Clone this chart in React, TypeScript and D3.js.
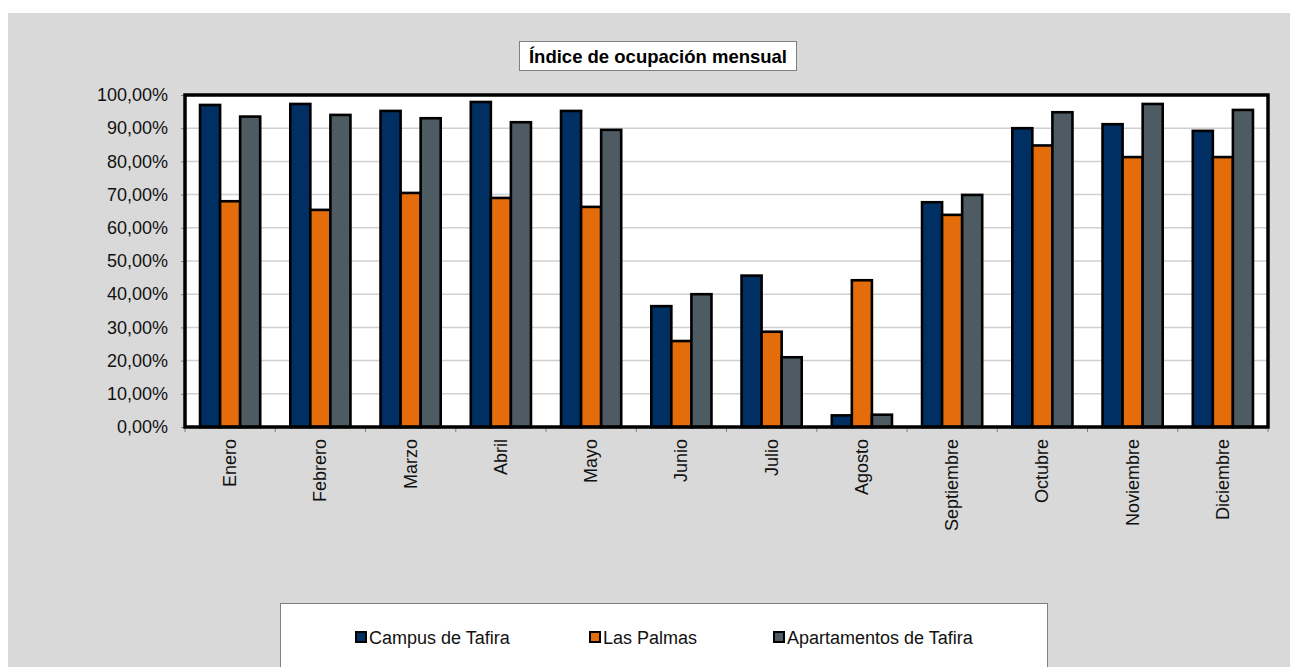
import React, { useRef, useEffect } from 'react';
import * as d3 from 'd3';

const months = ['Enero', 'Febrero', 'Marzo', 'Abril', 'Mayo', 'Junio', 'Julio', 'Agosto', 'Septiembre', 'Octubre', 'Noviembre', 'Diciembre'];
const seriesNames = ['Campus de Tafira', 'Las Palmas', 'Apartamentos de Tafira'];
const campusTafira = [0.970, 0.973, 0.952, 0.979, 0.952, 0.364, 0.456, 0.035, 0.677, 0.900, 0.912, 0.892];
const lasPalmas = [0.680, 0.654, 0.705, 0.690, 0.663, 0.259, 0.287, 0.442, 0.639, 0.848, 0.813, 0.813];
const apartamentosTafira = [0.935, 0.940, 0.930, 0.918, 0.895, 0.400, 0.210, 0.037, 0.699, 0.948, 0.973, 0.955];
const yTicks = [0, 0.1, 0.2, 0.3, 0.4, 0.5, 0.6, 0.7, 0.8, 0.9, 1];
const titleText = 'Índice de ocupación mensual';

const colors = ['#002F63', '#E46C0A', '#4F5B63'];
const FONT = 'Arial, "Liberation Sans", sans-serif';

const App = () => {
  const svgRef = useRef(null);
  const width = 1290;
  const height = 667;
  const plot = { left: 185, top: 95, right: 1268, bottom: 427 };

  useEffect(() => {
    const svg = d3.select(svgRef.current);
    svg.selectAll('*').remove();

    const values = [campusTafira, lasPalmas, apartamentosTafira];

    // background
    svg.append('rect')
      .attr('x', 8).attr('y', 13)
      .attr('width', width - 8).attr('height', height - 13)
      .attr('fill', '#D9D9D9');

    // scales
    const x0 = d3.scaleBand()
      .domain(months)
      .range([plot.left, plot.right])
      .paddingInner(0).paddingOuter(0);

    // gap width 150% -> 0.75 bar on each side of the group
    const x1 = d3.scaleBand()
      .domain(seriesNames)
      .range([0, x0.bandwidth()])
      .paddingInner(0).paddingOuter(0.75);

    const y = d3.scaleLinear()
      .domain([0, 1])
      .range([plot.bottom, plot.top]);

    const pct = d3.formatLocale({ decimal: ',', thousands: '.', grouping: [3], currency: ['', '€'] }).format('.2%');

    // plot area
    svg.append('rect')
      .attr('x', plot.left).attr('y', plot.top)
      .attr('width', plot.right - plot.left).attr('height', plot.bottom - plot.top)
      .attr('fill', '#fff');

    // gridlines
    svg.append('g')
      .selectAll('line')
      .data(yTicks.slice(1, -1))
      .enter()
      .append('line')
      .attr('x1', plot.left).attr('x2', plot.right)
      .attr('y1', d => y(d)).attr('y2', d => y(d))
      .attr('stroke', '#D0D0D0')
      .attr('stroke-width', 1.5);

    // y axis
    const yAxis = svg.append('g')
      .attr('transform', `translate(${plot.left},0)`)
      .call(d3.axisLeft(y).tickValues(yTicks).tickFormat(d => pct(d as number)).tickSize(4).tickPadding(13));
    yAxis.select('.domain').remove();
    yAxis.selectAll('line').attr('stroke', '#808080');
    yAxis.selectAll('text')
      .attr('font-family', FONT)
      .attr('font-size', 18)
      .attr('fill', '#111');

    // x axis tick marks at category boundaries
    svg.append('g')
      .selectAll('line')
      .data(d3.range(months.length + 1))
      .enter()
      .append('line')
      .attr('x1', i => plot.left + i * x0.step())
      .attr('x2', i => plot.left + i * x0.step())
      .attr('y1', plot.bottom).attr('y2', plot.bottom + 5)
      .attr('stroke', '#808080');

    svg.append('g')
      .selectAll('text')
      .data(months)
      .enter()
      .append('text')
      .attr('transform', d => `translate(${(x0(d) as number) + x0.bandwidth() / 2 + 6},${plot.bottom + 12}) rotate(-90)`)
      .attr('text-anchor', 'end')
      .attr('font-family', FONT)
      .attr('font-size', 18)
      .attr('fill', '#111')
      .text(d => d);

    // bars
    seriesNames.forEach((s, si) => {
      svg.append('g')
        .selectAll('rect')
        .data(values[si])
        .enter()
        .append('rect')
        .attr('x', (_, i) => (x0(months[i]) as number) + (x1(s) as number))
        .attr('y', d => y(d))
        .attr('width', x1.bandwidth())
        .attr('height', d => plot.bottom - y(d))
        .attr('fill', colors[si])
        .attr('stroke', '#000')
        .attr('stroke-width', 2.6);
    });

    // plot border
    svg.append('rect')
      .attr('x', plot.left).attr('y', plot.top)
      .attr('width', plot.right - plot.left).attr('height', plot.bottom - plot.top)
      .attr('fill', 'none')
      .attr('stroke', '#000')
      .attr('stroke-width', 3.5);

    // title
    svg.append('rect')
      .attr('x', 519.5).attr('y', 41.5)
      .attr('width', 277).attr('height', 29)
      .attr('fill', '#fff')
      .attr('stroke', '#808080');
    svg.append('text')
      .attr('x', 658).attr('y', 62.5)
      .attr('text-anchor', 'middle')
      .attr('font-family', FONT)
      .attr('font-weight', 'bold')
      .attr('font-size', 18.5)
      .attr('fill', '#000')
      .text(titleText);

    // legend
    svg.append('rect')
      .attr('x', 280.5).attr('y', 603.5)
      .attr('width', 767).attr('height', 80)
      .attr('fill', '#fff')
      .attr('stroke', '#808080');

    const legendX = [355, 589, 773];
    const legend = svg.append('g')
      .selectAll('g')
      .data(seriesNames)
      .enter()
      .append('g')
      .attr('transform', (_, i) => `translate(${legendX[i]},637)`);
    legend.append('rect')
      .attr('x', 1).attr('y', -5)
      .attr('width', 10).attr('height', 10)
      .attr('fill', (_, i) => colors[i])
      .attr('stroke', '#000')
      .attr('stroke-width', 2);
    legend.append('text')
      .attr('x', 14).attr('y', 6.5)
      .attr('font-family', FONT)
      .attr('font-size', 18)
      .attr('fill', '#111')
      .text(d => d);
  }, []);

  return (
    <svg
      ref={svgRef}
      width={width}
      height={height}
      style={{ position: 'absolute', left: 0, top: 0, background: '#fff' }}
    ></svg>
  );
};

export default App;
